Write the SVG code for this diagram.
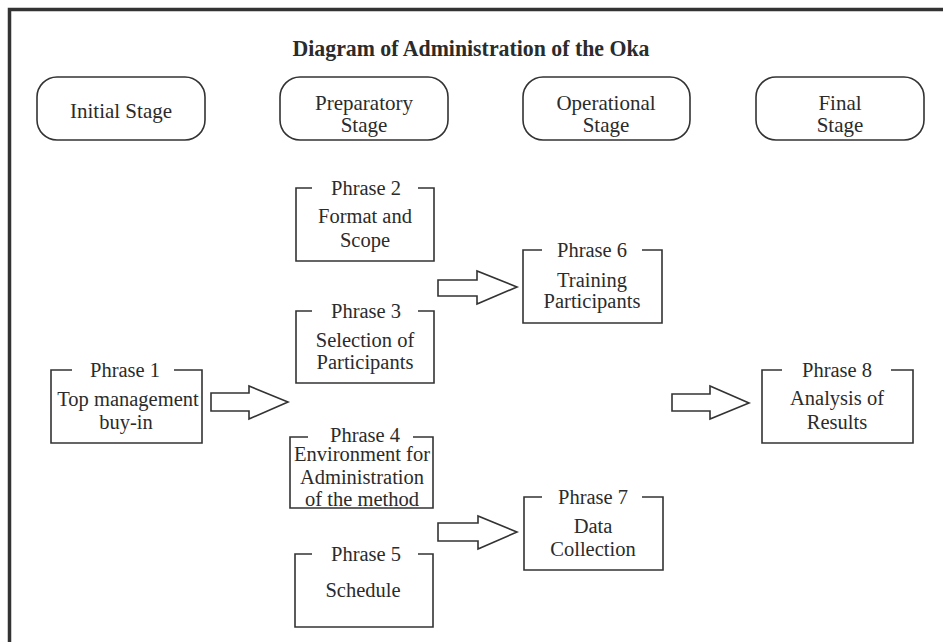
<svg xmlns="http://www.w3.org/2000/svg" width="943" height="642" viewBox="0 0 943 642" font-family="Liberation Serif, Times New Roman, serif">
<style>
text{fill:#2b2b2b;text-anchor:middle}
.t{font-size:24px;font-weight:bold}
.s{font-size:21px}
.p{font-size:20.5px}
.stage{fill:#fff;stroke:#333;stroke-width:1.6}
.box{fill:none;stroke:#333;stroke-width:1.6}
.arr{fill:#fff;stroke:#333;stroke-width:1.6;stroke-linejoin:miter}
.frame{fill:none;stroke:#333;stroke-width:3.5}
</style>
<rect width="943" height="642" fill="#fff"/>
<path class="frame" d="M9.5 642 V9.5 H943"/>
<text class="t" x="471" y="56" textLength="357" lengthAdjust="spacingAndGlyphs">Diagram of Administration of the Oka</text>

<g id="stage-initial"><rect class="stage" x="37" y="77" width="168" height="63" rx="20"/><text class="s" x="121" y="118">Initial Stage</text></g>
<g id="stage-preparatory"><rect class="stage" x="280" y="77" width="168" height="63" rx="20"/><text class="s" x="364" y="110">Preparatory</text><text class="s" x="364" y="132">Stage</text></g>
<g id="stage-operational"><rect class="stage" x="523" y="77" width="167" height="63" rx="20"/><text class="s" x="606" y="110">Operational</text><text class="s" x="606" y="132">Stage</text></g>
<g id="stage-final"><rect class="stage" x="756" y="77" width="168" height="63" rx="20"/><text class="s" x="840" y="110">Final</text><text class="s" x="840" y="132">Stage</text></g>

<g id="phase1"><path class="box" d="M72 370 H51 V443 H202 V370 H174"/><text class="p" x="125" y="377">Phrase 1</text><text class="p" x="128" y="406">Top management</text><text class="p" x="126" y="429">buy-in</text></g>
<g id="phase2"><path class="box" d="M312 188 H296 V261 H434 V188 H418"/><text class="p" x="366" y="195">Phrase 2</text><text class="p" x="365" y="223">Format and</text><text class="p" x="365" y="247">Scope</text></g>
<g id="phase3"><path class="box" d="M312 311 H296 V383 H434 V311 H418"/><text class="p" x="366" y="318">Phrase 3</text><text class="p" x="365" y="347">Selection of</text><text class="p" x="365" y="369">Participants</text></g>
<g id="phase4"><path class="box" d="M308 437 H290 V508 H433 V437 H413"/><text class="p" x="365" y="442">Phrase 4</text><text class="p" x="362" y="461">Environment for</text><text class="p" x="362" y="484">Administration</text><text class="p" x="362" y="506">of the method</text></g>
<g id="phase5"><path class="box" d="M312 554 H295 V627 H433 V554 H418"/><text class="p" x="366" y="561">Phrase 5</text><text class="p" x="363" y="597">Schedule</text></g>
<g id="phase6"><path class="box" d="M542 250 H523 V323 H662 V250 H642"/><text class="p" x="592" y="257">Phrase 6</text><text class="p" x="592" y="287">Training</text><text class="p" x="592" y="308">Participants</text></g>
<g id="phase7"><path class="box" d="M542 497 H524 V570 H663 V497 H642"/><text class="p" x="593" y="504">Phrase 7</text><text class="p" x="593" y="533">Data</text><text class="p" x="593" y="556">Collection</text></g>
<g id="phase8"><path class="box" d="M782 370 H762 V443 H913 V370 H891"/><text class="p" x="837" y="377">Phrase 8</text><text class="p" x="837" y="405">Analysis of</text><text class="p" x="837" y="429">Results</text></g>

<g id="connectors">
<polygon class="arr" points="211,393 249,393 249,386 288,402 249,419 249,411 211,411"/>
<polygon class="arr" points="438,280 477,280 477,271 517,287 477,304 477,296 438,296"/>
<polygon class="arr" points="438,523 478,523 478,516 517,532 478,549 478,541 438,541"/>
<polygon class="arr" points="672,394 710,394 710,386 749,403 710,419 710,411 672,411"/>
</g>
</svg>
